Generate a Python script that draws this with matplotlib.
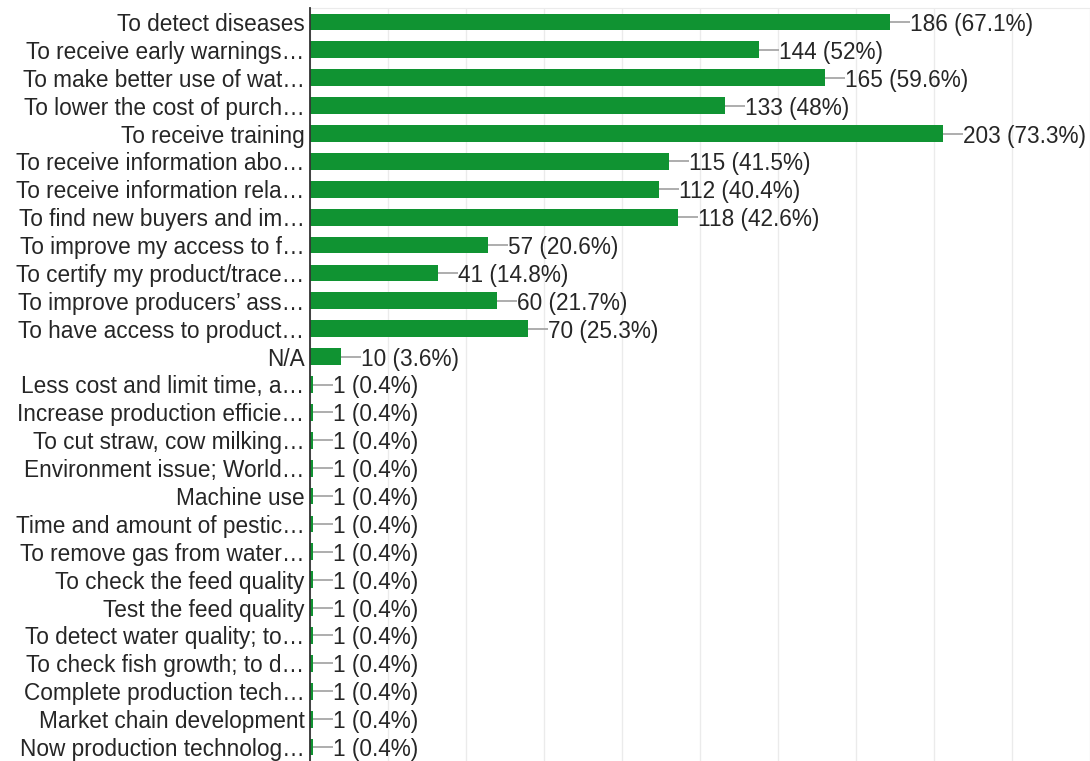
import matplotlib
matplotlib.use("Agg")
import matplotlib.pyplot as plt

plt.rcParams['font.family'] = ['Liberation Sans', 'DejaVu Sans']

labels = [
    "To detect diseases",
    "To receive early warnings…",
    "To make better use of wat…",
    "To lower the cost of purch…",
    "To receive training",
    "To receive information abo…",
    "To receive information rela…",
    "To find new buyers and im…",
    "To improve my access to f…",
    "To certify my product/trace…",
    "To improve producers’ ass…",
    "To have access to product…",
    "N/A",
    "Less cost and limit time, a…",
    "Increase production efficie…",
    "To cut straw, cow milking…",
    "Environment issue; World…",
    "Machine use",
    "Time and amount of pestic…",
    "To remove gas from water…",
    "To check the feed quality",
    "Test the feed quality",
    "To detect water quality; to…",
    "To check fish growth; to d…",
    "Complete production tech…",
    "Market chain development",
    "Now production technolog…",
]
counts = [186, 144, 165, 133, 203, 115, 112, 118, 57, 41, 60, 70, 10,
          1, 1, 1, 1, 1, 1, 1, 1, 1, 1, 1, 1, 1, 1]
percents = ["67.1", "52", "59.6", "48", "73.3", "41.5", "40.4", "42.6",
            "20.6", "14.8", "21.7", "25.3", "3.6",
            "0.4", "0.4", "0.4", "0.4", "0.4", "0.4", "0.4", "0.4",
            "0.4", "0.4", "0.4", "0.4", "0.4", "0.4"]

W, H = 1090, 761
fig = plt.figure(figsize=(W / 100, H / 100), dpi=100)
ax = fig.add_axes([310 / W, 0, (W - 310) / W, (H - 8) / H])

bar_color = "#109332"
text_color = "#262626"
fs = 16.3
y = list(range(len(labels)))
ax.barh(y, counts, height=0.6, color=bar_color, zorder=3)

ax.set_xlim(0, 250)
ax.set_ylim(len(labels) - 0.5, -0.5)

ax.set_xticks(range(0, 251, 25))
ax.xaxis.grid(True, color="#ebebeb", linewidth=1, zorder=0)
ax.tick_params(axis="x", length=0, labelbottom=False)
ax.set_yticks(y)
ax.set_yticklabels(labels, fontsize=fs, color=text_color)
for lbl in ax.get_yticklabels():
    lbl.set_verticalalignment("center_baseline")
ax.tick_params(axis="y", length=0, pad=4)

for side in ("right", "bottom"):
    ax.spines[side].set_visible(False)
ax.spines["top"].set_color("#ebebeb")
ax.spines["left"].set_color("#333333")
ax.spines["left"].set_linewidth(1.3)
ax.spines["left"].set_zorder(4)

# short grey leader from each bar end to its value label
lead = 20 / 3.118
for yi, c, p in zip(y, counts, percents):
    ax.plot([c, c + lead], [yi, yi], color="#a0a0a0", linewidth=1.2, zorder=3,
            solid_capstyle="butt")
    ax.text(c + lead, yi, f"{c} ({p}%)", va="center_baseline", ha="left",
            fontsize=fs, color=text_color, zorder=4)

fig.savefig("out.png", dpi=100)
